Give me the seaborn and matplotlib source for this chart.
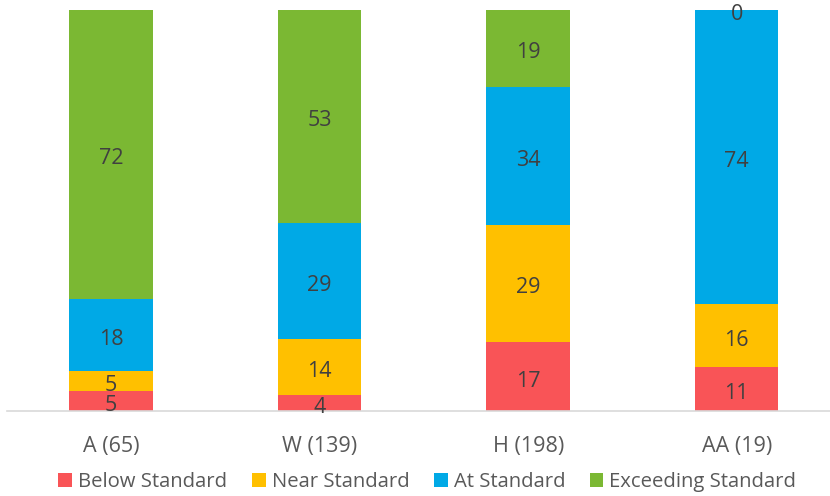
import matplotlib
matplotlib.use("Agg")
import matplotlib.pyplot as plt
from matplotlib.patches import Patch
import numpy as np
import pandas as pd
import seaborn as sns

categories = ["A (65)", "W (139)", "H (198)", "AA (19)"]
levels = ["Below Standard", "Near Standard", "At Standard", "Exceeding Standard"]
below = [5, 4, 17, 11]
near = [5, 14, 29, 16]
at = [18, 29, 34, 74]
exceeding = [72, 53, 19, 0]
colors = ["#F95457", "#FFC000", "#00A9E6", "#7BB833"]

sns.set_theme(style="white")
plt.rcParams["font.family"] = ["Open Sans", "DejaVu Sans"]

series = [below, near, at, exceeding]
values = np.array(series, dtype=float)
shares = values / values.sum(axis=0) * 100  # 100% stacked

fig = plt.figure(figsize=(8.3, 4.96), dpi=100)
ax = fig.add_axes([6.7 / 830, 85 / 496, (841 - 6.7) / 830, 401 / 496])

bottom = np.zeros(len(categories))
for lvl, share, raw, col in zip(levels, shares, values, colors):
    df = pd.DataFrame({"cat": categories, "val": share})
    sns.barplot(data=df, x="cat", y="val", color=col, width=0.40, ax=ax,
                bottom=bottom, saturation=1, edgecolor="none", linewidth=0)
    for i, (b, s, r) in enumerate(zip(bottom, share, raw)):
        ax.text(i, b + s / 2 - 0.5, f"{int(r)}", ha="center", va="center_baseline",
                fontsize=15.5, color="#404040")
    bottom = bottom + share

ax.set_ylim(0, 100)
ax.set_xlim(-0.5, 3.5)
ax.set_xlabel("")
ax.set_ylabel("")
ax.set_yticks([])
ax.tick_params(axis="x", length=0, pad=18, labelsize=15.5, labelcolor="#595959")
for side in ["top", "right", "left"]:
    ax.spines[side].set_visible(False)
ax.spines["bottom"].set_color("#D9D9D9")
ax.spines["bottom"].set_linewidth(1.2)

handles = [Patch(facecolor=c, edgecolor="none") for c in colors]
fig.legend(handles, levels, loc="center", bbox_to_anchor=(0.515, 0.028), ncol=4,
           frameon=False, fontsize=14.6, labelcolor="#595959",
           handlelength=0.68, handleheight=0.68, handletextpad=0.3,
           columnspacing=1.2)

fig.savefig("out.png", dpi=100)
